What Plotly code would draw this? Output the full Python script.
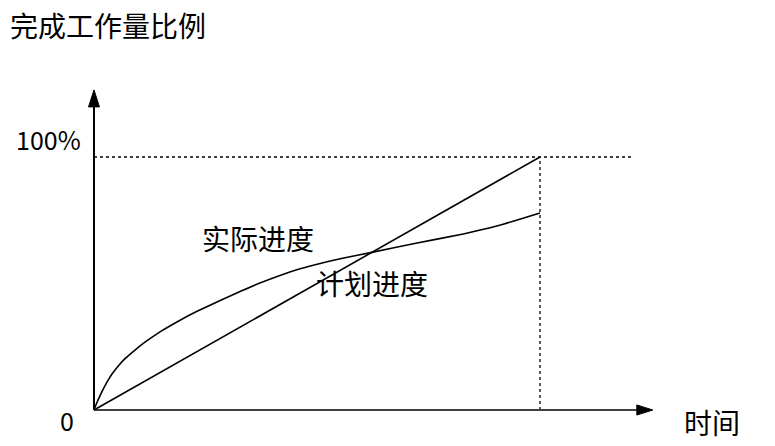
import plotly.graph_objects as go

# 时间 (0..100) 与 完成工作量比例 (%)
plan_x = [0, 100]
plan_y = [0, 100]

actual_x = [0, 0.5, 1.05, 1.79, 2.91, 4.04, 5.54, 7.02, 9.26, 11.5, 14.9, 19.3, 23.0,
            28.3, 33.0, 37.2, 41.7, 46.2, 50.7, 55.2, 62.3, 71.6, 82.8, 90.3, 100]
actual_y = [0, 2.3, 4.5, 7.25, 11.0, 14.2, 17.6, 20.4, 23.8, 26.9, 31.0, 35.5, 38.9,
            43.3, 47.0, 50.2, 53.2, 55.8, 57.9, 59.8, 62.3, 65.7, 69.6, 72.7, 77.9]

full_label = "100%"
zero_label = "0"
y_title = "完成工作量比例"
x_title = "时间"
actual_name = "实际进度"
plan_name = "计划进度"

font_name = "Noto Sans CJK SC"
x_end = 121.7
y_end = 119.8

fig = go.Figure()

# 虚线
fig.add_trace(go.Scatter(x=[0, 120.6], y=[100, 100], mode="lines",
                         line=dict(color="black", width=1.3, dash="dot")))
fig.add_trace(go.Scatter(x=[100, 100], y=[0, 100], mode="lines",
                         line=dict(color="black", width=1.3, dash="dot")))

# 坐标轴
fig.add_trace(go.Scatter(x=[0, x_end], y=[0, 0], mode="lines",
                         line=dict(color="#404040", width=2.2)))
fig.add_trace(go.Scatter(x=[0, 0], y=[0, y_end], mode="lines",
                         line=dict(color="black", width=2)))
fig.add_trace(go.Scatter(x=[x_end, 125.3, x_end, x_end], y=[-2.0, 0, 2.0, -2.0],
                         mode="lines", fill="toself", fillcolor="black",
                         line=dict(color="black", width=1)))
fig.add_trace(go.Scatter(x=[-1.23, 0, 1.23, -1.23], y=[y_end, 126.5, y_end, y_end],
                         mode="lines", fill="toself", fillcolor="black",
                         line=dict(color="black", width=1)))

# 进度曲线
fig.add_trace(go.Scatter(x=plan_x, y=plan_y, mode="lines",
                         line=dict(color="black", width=1.6)))
fig.add_trace(go.Scatter(x=actual_x, y=actual_y, mode="lines",
                         line=dict(color="black", width=1.6, shape="spline", smoothing=0.4)))

def label(text, x, y, xanchor="center", size=28):
    fig.add_annotation(x=x, y=y, xref="x", yref="y", text=text, showarrow=False,
                       xanchor=xanchor, yanchor="middle",
                       font=dict(family=font_name, size=size, color="black"))

fig.add_annotation(x=0, y=1, xref="paper", yref="paper", text=y_title, showarrow=False,
                   xanchor="left", yanchor="top", yshift=5,
                   font=dict(family=font_name, size=28, color="black"))
label(full_label, -2.5, 107.1, "right", 25)
label(zero_label, -6.05, -3.95, size=25)
label(x_title, 138.6, -4.7)
label(actual_name, 36.8, 68.0)
label(plan_name, 62.3, 50.2)

# 页面 body 默认有 8px 边距, 范围按此偏移
fig.update_layout(
    width=775, height=446,
    margin=dict(l=0, r=0, t=0, b=0),
    showlegend=False,
    plot_bgcolor="white", paper_bgcolor="white",
    xaxis=dict(range=[-19.28, 154.48], visible=False, fixedrange=True),
    yaxis=dict(range=[-17.39, 158.89], visible=False, fixedrange=True),
)

fig.write_html("out.html")
